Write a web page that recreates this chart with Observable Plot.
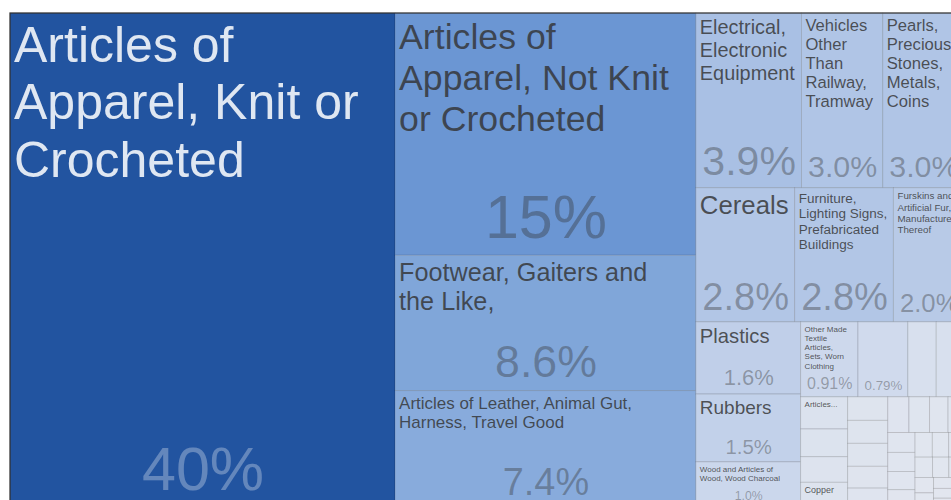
<!DOCTYPE html>
<html>
<head>
<meta charset="utf-8">
<script src="https://cdn.jsdelivr.net/npm/d3@7"></script>
<script src="https://cdn.jsdelivr.net/npm/@observablehq/plot@0.6"></script>
<style>
  html, body { margin: 0; padding: 0; background: #fff; overflow: hidden; }
  #chart { width: 951px; height: 500px; overflow: hidden; position: relative; }
  #chart svg { display: block; }
</style>
</head>
<body>
<div id="chart"></div>
<script>
// ---- Data (export share by product category, %) ----
const categories = [
  "Articles of Apparel, Knit or Crocheted",
  "Articles of Apparel, Not Knit or Crocheted",
  "Footwear, Gaiters and the Like,",
  "Articles of Leather, Animal Gut, Harness, Travel Good",
  "Electrical, Electronic Equipment",
  "Vehicles Other Than Railway, Tramway",
  "Pearls, Precious Stones, Metals, Coins",
  "Cereals",
  "Furniture, Lighting Signs, Prefabricated Buildings",
  "Furskins and Artificial Fur, Manufactures Thereof",
  "Plastics",
  "Rubbers",
  "Wood and Articles of Wood, Wood Charcoal",
  "Other Made Textile Articles, Sets, Worn Clothing",
  "Miscellaneous Manufactured Articles",
  "Sugars and Sugar Confectionery",
  "Edible Fruits and Nuts",
  "Articles of Iron or Steel",
  "Preparations of Vegetables, Fruit, Nuts",
  "Photographic and Cinematographic Goods",
  "Copper",
  "Headgear and Parts Thereof",
  "Machinery, Nuclear Reactors, Boilers",
  "Umbrellas, Walking-Sticks, Seat-Sticks",
  "Musical Instruments",
  "Aluminium and Articles Thereof",
  "Ceramic Products",
  "Glass and Glassware",
  "Beverages, Spirits and Vinegar",
  "Tobacco and Manufactured Tobacco Substitutes",
  "Animal or Vegetable Fats and Oils",
  "Residues from Food Industries",
  "Inorganic Chemicals",
  "Paper and Paperboard",
  "Pharmaceutical Products",
  "Coffee, Tea, Mate and Spices",
  "Essential Oils, Perfumes",
  "Printed Books, Newspapers",
  "Vegetable Plaiting Materials",
  "Cotton",
  "Man-Made Filaments",
  "Wadding, Felt, Nonwovens",
  "Tools, Implements, Cutlery",
  "Aircraft, Spacecraft",
  "Ships, Boats, Floating Structures",
  "Lead and Articles Thereof",
  "Salt, Sulphur, Earths and Stone"
];
const values = [
  40.2, 15.4, 8.6, 7.4,
  3.9, 3.0, 3.0,
  2.8, 2.8, 2.0,
  1.6, 1.5, 1.0,
  0.91, 0.79, 0.45, 0.44,
  0.32, 0.275, 0.255, 0.245,
  0.2, 0.195, 0.195, 0.185, 0.16,
  0.16, 0.155, 0.14, 0.12,
  0.115, 0.11, 0.105, 0.1, 0.09, 0.085, 0.08, 0.075, 0.07, 0.065,
  0.06, 0.055, 0.05, 0.045, 0.04, 0.03, 0.025
];
// colour ramp stops (share -> colour)
const colorStops = [0, 1, 2, 4, 8, 16, 40];
const colorRange = ["#e3e7ef", "#cbd7ec", "#b8cae7", "#a8bfe4", "#82a7da", "#6995d2", "#2355a0"];

// ---- Layout ----
const W = 954, H = 494, X0 = 10, Y0 = 13;
const total = d3.sum(values);
const rows = categories.map((name, i) => ({name, value: values[i]}));
const root = d3.hierarchy({children: rows})
  .sum(d => d.value || 0)
  .sort((a, b) => b.value - a.value);
d3.treemap().tile(d3.treemapSquarify).size([W, H]).round(false)(root);
const leaves = root.leaves().map(n => ({
  name: n.data.name, value: n.data.value,
  x0: n.x0, x1: n.x1, y0: n.y0, y1: n.y1
}));

// ---- Text fitting ----
const FONT = '"Liberation Sans", Arial, Helvetica, sans-serif';
const ctx = document.createElement("canvas").getContext("2d");
ctx.font = '100px "Liberation Sans", Arial, sans-serif';
const em = s => ctx.measureText(s).width / 100;
const LH = 1.15;

function wrap(words, fs, maxW) {
  const lines = [];
  let cur = "";
  for (const w of words) {
    const t = cur ? cur + " " + w : w;
    if (!cur || em(t) * fs <= maxW) cur = t;
    else { lines.push(cur); cur = w; }
  }
  if (cur) lines.push(cur);
  return lines;
}

function fitLabel(name, w, h, boxH, cap) {
  const words = name.split(" ");
  const iw = w - 10;
  const availW = iw - 0.1 * Math.max(0, w - 100);
  if (availW <= 0) return null;
  const T = em(name);
  const maxWord = d3.max(words, em);
  const R = 0.62 / Math.pow(Math.max(1, iw / h), 0.35);
  let fs = Math.min(R * Math.sqrt(iw * h / T), 50, availW / maxWord, cap);
  fs = Math.max(fs, 8);
  for (; fs >= 8; fs -= 0.2) {
    const lines = wrap(words, fs, availW);
    const ok = lines.every(l => em(l) * fs <= availW) && lines.length * fs * LH <= boxH;
    if (ok) return {fs, lines};
  }
  fs = 8;
  let lines = wrap(words, fs, availW);
  if (em(lines[0].split(" ")[0]) * fs > availW) return null;
  const maxLines = Math.floor(boxH / (fs * LH));
  if (maxLines < 1) return null;
  if (lines.length > maxLines) {
    lines = lines.slice(0, maxLines);
    let last = lines[maxLines - 1].split(" ");
    while (last.length && em(last.join(" ") + "...") * fs > availW) last.pop();
    if (!last.length) return null;
    lines[maxLines - 1] = last.join(" ") + "...";
  }
  if (lines.some(l => em(l) * fs > availW)) return null;
  return {fs, lines};
}

const colorOf = d3.scaleLinear().domain(colorStops).range(colorRange);
const fmt = d3.format(".2r");
const labels = [], shares = [];
for (const c of leaves) {
  const w = c.x1 - c.x0, h = c.y1 - c.y0;
  const dark = d3.lab(colorOf(c.value)).l < 50;
  const pctText = fmt(c.value / total * 100) + "%";
  const pfs = Math.min(61, 0.36 * h - 4, (w - 12) / em(pctText));
  const showPct = pfs >= 10;
  if (showPct) {
    shares.push({x: (c.x0 + c.x1) / 2, y: c.y1 - 4.5 - 0.212 * pfs, text: pctText, fs: pfs, dark});
  }
  const boxH = showPct ? h - (pfs * 1.4 + 4.5) - 2 : h * 0.5;
  const cap = showPct ? 0.28 * h : 0.4 * h;
  const lab = fitLabel(c.name, w, h, boxH, cap);
  if (lab) {
    labels.push({x: c.x0 + 3.5, y: c.y0 + 2 + 0.11 * lab.fs, text: lab.lines.join("\n"), fs: lab.fs, dark});
  }
}

// ---- Plot ----
const chart = Plot.plot({
  width: 951,
  height: 500,
  x: {domain: [0, W], range: [X0, X0 + W], axis: null},
  y: {domain: [0, H], range: [Y0, Y0 + H], axis: null},
  color: {type: "linear", domain: colorStops, range: colorRange},
  style: {background: "#fff", fontFamily: FONT},
  marks: [
    Plot.rect(leaves, {
      x1: "x0", x2: "x1", y1: "y0", y2: "y1",
      fill: "value", stroke: "#000", strokeOpacity: 0.13, strokeWidth: 1
    }),
    Plot.rect([root], {
      x1: d => d.x0, x2: d => d.x1, y1: d => d.y0, y2: d => d.y1,
      fill: "none", stroke: "#333", strokeWidth: 1.2
    }),
    Plot.text(labels.filter(d => !d.dark), {
      x: "x", y: "y", text: "text", fontSize: d => d.fs,
      textAnchor: "start", lineAnchor: "top", lineHeight: LH,
      fill: "#333", fillOpacity: 0.82, fontFamily: FONT
    }),
    Plot.text(labels.filter(d => d.dark), {
      x: "x", y: "y", text: "text", fontSize: d => d.fs,
      textAnchor: "start", lineAnchor: "top", lineHeight: LH,
      fill: "#fff", fillOpacity: 0.86, fontFamily: FONT
    }),
    Plot.text(shares.filter(d => !d.dark), {
      x: "x", y: "y", text: "text", fontSize: d => d.fs,
      textAnchor: "middle", lineAnchor: "bottom",
      fill: "#333", fillOpacity: 0.38, fontFamily: FONT
    }),
    Plot.text(shares.filter(d => d.dark), {
      x: "x", y: "y", text: "text", fontSize: d => d.fs,
      textAnchor: "middle", lineAnchor: "bottom",
      fill: "#fff", fillOpacity: 0.3, fontFamily: FONT
    })
  ]
});
document.getElementById("chart").appendChild(chart);
</script>
</body>
</html>
